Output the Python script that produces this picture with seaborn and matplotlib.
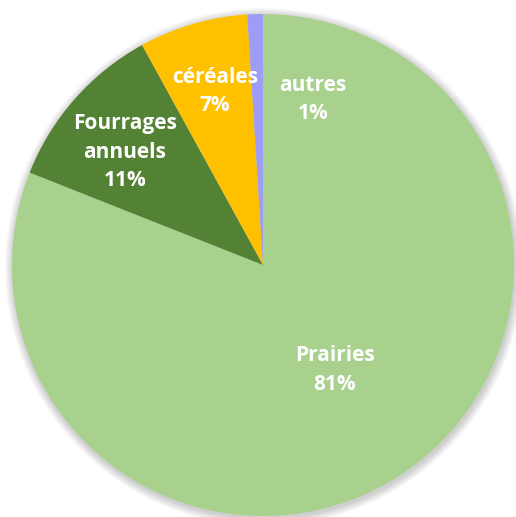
import matplotlib
matplotlib.use("Agg")
import matplotlib.pyplot as plt
import seaborn as sns
import numpy as np
from matplotlib.patches import Circle

sns.set_theme(style="white")
plt.rcParams['font.family'] = ['Open Sans', 'DejaVu Sans']

categories = ["Prairies", "Fourrages\nannuels", "céréales", "autres"]
values = [81, 11, 7, 1]
pct_labels = ["81%", "11%", "7%", "1%"]
colors = ["#A9D18E", "#548235", "#FFC000", "#9D9DF5"]

W, H = 516, 517
fig = plt.figure(figsize=(W / 100, H / 100), dpi=100)
cx, cy, r = 263, 265, 251

ax = fig.add_axes([(cx - r * 1.05) / W, (H - cy - r * 1.05) / H, 2.1 * r / W, 2.1 * r / H])
# soft shadow
for k in range(8):
    ax.add_patch(Circle((0.004, -0.008), 1.0 + 0.004 * (k + 1), color="black",
                        alpha=0.025, lw=0, zorder=0))

wedges, texts = ax.pie(values, colors=colors, startangle=90, counterclock=False,
                       radius=1.0, labels=[f"{c}\n{p}" for c, p in zip(categories, pct_labels)],
                       labeldistance=0.7,
                       textprops=dict(color="white", fontsize=15, fontweight="bold",
                                      ha="center", va="center", linespacing=1.45),
                       wedgeprops=dict(linewidth=0))
for w in wedges:
    w.set_zorder(2)

label_pos = [(0.287, -0.418), (-0.55, 0.45), (-0.19, 0.69), (0.20, 0.66)]
for t, p in zip(texts, label_pos):
    t.set_position(p)
    t.set_ha("center")
    t.set_va("center")
    t.set_zorder(3)

ax.set_xlim(-1.05, 1.05)
ax.set_ylim(-1.05, 1.05)
ax.set_aspect("equal")
ax.axis("off")

fig.savefig("out.png", dpi=100)
